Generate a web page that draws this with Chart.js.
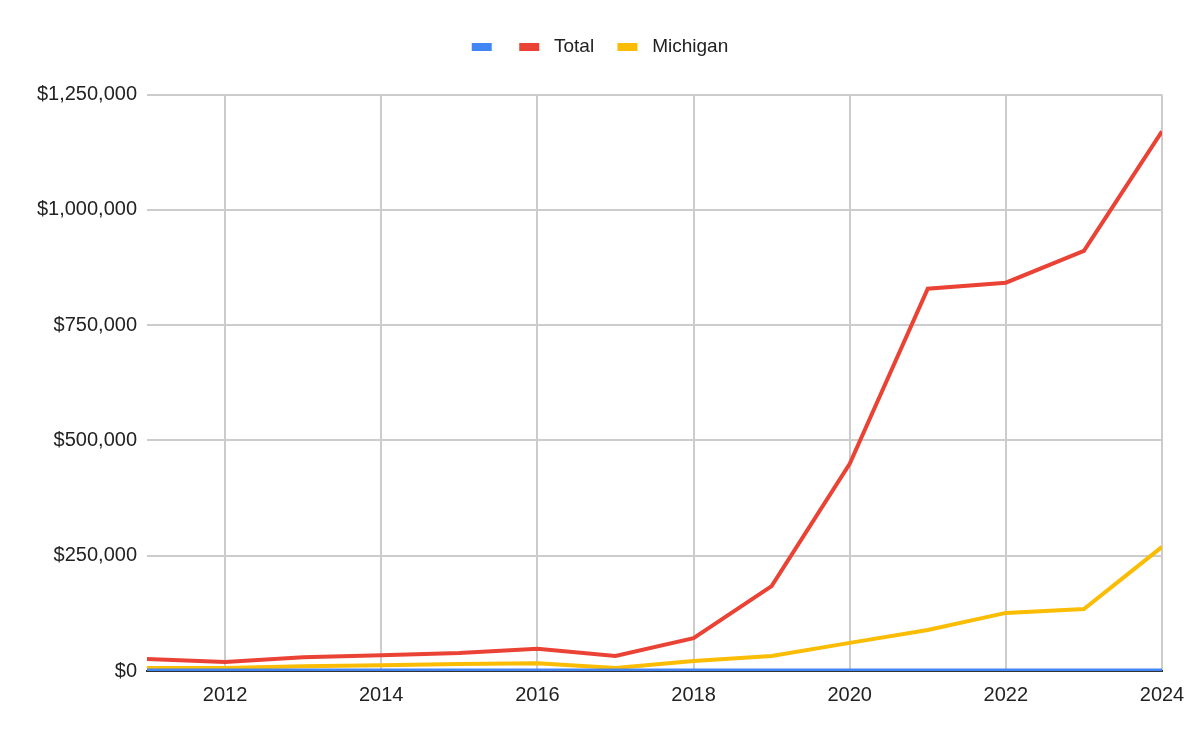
<!DOCTYPE html>
<html><head><meta charset="utf-8">
<script src="https://cdn.jsdelivr.net/npm/chart.js@4"></script>
<style>html,body{margin:0;padding:0;background:#fff}#wrap{width:1200px;height:742px}</style>
</head><body><div id="wrap"><canvas id="c" width="1200" height="742"></canvas></div>
<script>
const years = [2011,2012,2013,2014,2015,2016,2017,2018,2019,2020,2021,2022,2023,2024];
const blankSeries = [2000,2000,2000,2000,2000,2000,2000,2000,2000,2000,2000,2000,2000,2000];
const totalSeries = [26000,19500,30000,34000,39000,48000,32500,71000,184000,449000,829000,842000,911000,1170000];
const michiganSeries = [6500,6500,10500,12500,15000,17000,6500,21500,32500,61000,89000,126000,134500,269000];
const xTicks = [2012,2014,2016,2018,2020,2022,2024];
const yTicks = [0,250000,500000,750000,1000000,1250000];
const seriesNames = ['', 'Total', 'Michigan'];

const FONT = "'Liberation Sans', Arial, sans-serif";
const mk = (arr) => arr.map((v,i)=>({x:years[i], y:v}));

const legendGap = {
  id:'legendGap',
  afterInit(chart){
    const lg = chart.legend;
    if(!lg) return;
    const orig = lg.fit;
    lg.fit = function(){ orig.call(this); this.height += 28; };
  },
  afterLayout(chart){
    const lg = chart.legend;
    if(!lg) return;
    lg.left = 0; lg.right = chart.width; lg.width = chart.width;
  }
};

new Chart(document.getElementById('c'), {
  type: 'line',
  data: {
    datasets: [
      {label: seriesNames[0], data: mk(blankSeries), borderColor:'#4285F4', backgroundColor:'#4285F4', borderWidth:3, pointRadius:0},
      {label: seriesNames[1], data: mk(totalSeries), borderColor:'#EA4335', backgroundColor:'#EA4335', borderWidth:4, pointRadius:0},
      {label: seriesNames[2], data: mk(michiganSeries), borderColor:'#FBBC04', backgroundColor:'#FBBC04', borderWidth:4, pointRadius:0}
    ]
  },
  plugins:[legendGap],
  options: {
    responsive:false, animation:false,
    layout:{padding:{left:0,right:38,top:19.5,bottom:0}},
    plugins:{
      legend:{position:'top', labels:{boxWidth:20, boxHeight:8, padding:18, color:'#222',
        font:{family:FONT,size:19},
        generateLabels:(chart)=>{
          const base = Chart.defaults.plugins.legend.labels.generateLabels(chart);
          return base.map((it,i)=>({...it, lineWidth:0,
            text: it.text ? ' '+it.text+(i===1?' ':'') : ''}));
        }}},
      tooltip:{enabled:false}
    },
    scales:{
      x:{type:'linear', min:2011, max:2024,
        afterBuildTicks:(a)=>{a.ticks = xTicks.map(v=>({value:v}));},
        afterFit:(a)=>{a.height=71;},
        grid:{color:'#cccccc', lineWidth:2, drawTicks:false},
        border:{display:true, color:'#333333', width:2},
        ticks:{color:'#222', padding:12, font:{family:FONT,size:20}, callback:(v)=>String(v), maxRotation:0, autoSkip:false}
      },
      y:{min:0, max:1250000,
        afterBuildTicks:(a)=>{a.ticks = yTicks.map(v=>({value:v}));},
        afterFit:(a)=>{a.width=147;},
        grid:{color:'#cccccc', lineWidth:2, drawTicks:false},
        border:{display:false},
        ticks:{color:'#222', padding:10, font:{family:FONT,size:20}, callback:(v)=>'$'+Number(v).toLocaleString('en-US')}
      }
    }
  }
});
</script></body></html>
